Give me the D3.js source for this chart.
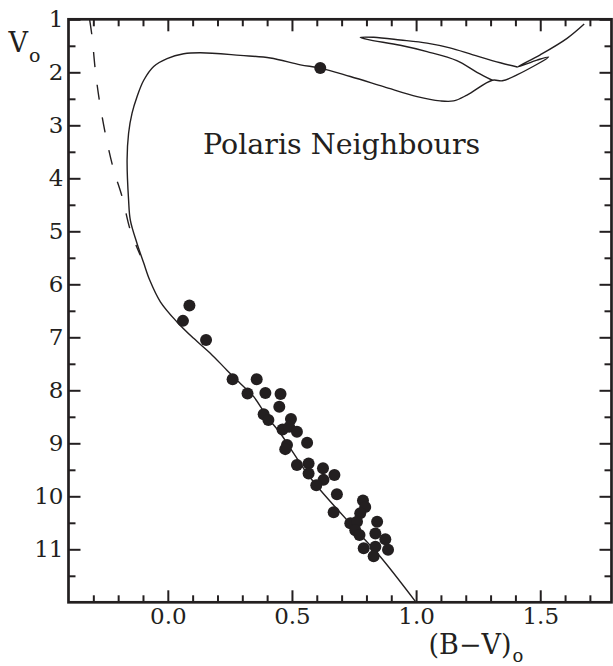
<!DOCTYPE html>
<html>
<head>
<meta charset="utf-8">
<script src="https://cdn.jsdelivr.net/npm/d3@7"></script>
<style>
  body { margin: 0; background: #fff; }
  svg { display: block; }
</style>
</head>
<body>
<script>
// Colour-magnitude diagram of the Polaris neighbours

// stars near Polaris, (B-V)o and Vo
var starBV = [0.061, 0.087, 0.154, 0.261, 0.358, 0.321, 0.393, 0.454, 0.449, 0.386,
  0.405, 0.496, 0.462, 0.489, 0.520, 0.480, 0.473, 0.561, 0.520, 0.567,
  0.567, 0.625, 0.671, 0.627, 0.598, 0.681, 0.668, 0.786, 0.795, 0.775,
  0.843, 0.735, 0.762, 0.755, 0.772, 0.836, 0.876, 0.789, 0.836, 0.887, 0.829];
var starV = [6.69, 6.40, 7.05, 7.79, 7.79, 8.06, 8.05, 8.07, 8.31, 8.45,
  8.56, 8.54, 8.74, 8.69, 8.78, 9.03, 9.11, 8.99, 9.41, 9.38,
  9.57, 9.47, 9.60, 9.69, 9.79, 9.96, 10.30, 10.08, 10.20, 10.32,
  10.48, 10.51, 10.48, 10.64, 10.73, 10.70, 10.81, 10.98, 10.95, 11.01, 11.13];

// Polaris itself, sitting on the isochrone
var polarisBV = [0.614];
var polarisV = [1.92];

// isochrone, from the lower main sequence up to the giant branch
var isoBV = [1.000, 0.856, 0.782, 0.614, 0.561, 0.507, 0.453, 0.400, 0.346, 0.292,
  0.238, 0.171, 0.104, 0.037, -0.030, -0.073, -0.097, -0.124, -0.151, -0.158,
  -0.164, -0.158, -0.144, -0.124, -0.097, -0.057, -0.003, 0.064, 0.131, 0.292,
  0.413, 0.534, 0.614, 0.735, 0.869, 1.004, 1.097, 1.151, 1.205, 1.307,
  1.347, 1.406, 1.534, 1.487, 1.408, 1.500, 1.608, 1.677];
var isoV = [12.00, 11.14, 10.76, 9.88, 9.57, 9.19, 8.81, 8.50, 8.12, 7.87,
  7.62, 7.30, 7.02, 6.71, 6.33, 5.92, 5.60, 5.23, 4.79, 4.41,
  3.65, 3.15, 2.77, 2.46, 2.15, 1.89, 1.74, 1.65, 1.63, 1.68,
  1.73, 1.86, 1.92, 2.08, 2.27, 2.46, 2.54, 2.54, 2.43, 2.15,
  2.16, 2.05, 1.71, 1.77, 1.90, 1.67, 1.36, 1.09];

// blue loop of the isochrone
var loopBV = [1.307, 1.245, 1.164, 1.044, 0.936, 0.803, 0.775, 0.829, 0.936, 1.044,
  1.136, 1.229, 1.339, 1.408];
var loopV = [2.15, 2.00, 1.78, 1.61, 1.49, 1.38, 1.34, 1.34, 1.39, 1.45,
  1.54, 1.67, 1.82, 1.90];

// zero age main sequence (dashed)
var zamsBV = [-0.315, -0.305, -0.292, -0.275, -0.248, -0.218, -0.184, -0.151, -0.111];
var zamsV = [1.00, 1.33, 1.96, 2.55, 3.24, 3.84, 4.35, 4.98, 5.45];

// ticks
var xMajor = [0.0, 0.5, 1.0, 1.5];
var xMinor = [-0.3, -0.2, -0.1, 0.1, 0.2, 0.3, 0.4, 0.6, 0.7, 0.8, 0.9, 1.1, 1.2, 1.3, 1.4, 1.6, 1.7];
var yMajor = [1, 2, 3, 4, 5, 6, 7, 8, 9, 10, 11];
var yMinor = [1.5, 2.5, 3.5, 4.5, 5.5, 6.5, 7.5, 8.5, 9.5, 10.5, 11.5];

var ink = "#231f20";
var serif = "'DejaVu Serif', serif";

// svg margin parameters
var margin = { top: 19.3, right: 1.5, bottom: 63.7, left: 68.5 };
var width = 613 - margin.left - margin.right,
  height = 666 - margin.top - margin.bottom;

var svg = d3.select("body").append("svg")
  .attr("width", 613)
  .attr("height", 666)
  .append("g")
  .attr("transform", "translate(" + margin.left + "," + margin.top + ")");

var x = d3.scaleLinear().domain([-0.4, 1.787]).range([0, width]);
var y = d3.scaleLinear().domain([1, 12]).range([0, height]);

// helper to draw one set of inward ticks
function ticks(axis, vals, size, labels, tx) {
  var g = svg.append("g")
    .attr("transform", tx)
    .call(axis.tickValues(vals).tickSizeInner(-size).tickSizeOuter(0)
      .tickPadding(labels ? 5 : 0)
      .tickFormat(labels ? labels : ""));
  g.select(".domain").remove();
  g.selectAll(".tick line").attr("stroke", ink).attr("stroke-width", 2);
  g.selectAll(".tick text")
    .attr("fill", ink)
    .style("font-family", serif)
    .style("font-size", "23px");
  return g;
}

ticks(d3.axisBottom(x), xMajor, 12, d3.format(".1f"), "translate(0," + height + ")");
ticks(d3.axisBottom(x), xMinor, 7, null, "translate(0," + height + ")");
ticks(d3.axisTop(x), xMajor, 12, null, "translate(0,0)");
ticks(d3.axisTop(x), xMinor, 7, null, "translate(0,0)");
ticks(d3.axisLeft(y), yMajor, 12, d3.format("d"), "translate(0,0)");
ticks(d3.axisLeft(y), yMinor, 7, null, "translate(0,0)");
ticks(d3.axisRight(y), yMajor, 12, null, "translate(" + width + ",0)");
ticks(d3.axisRight(y), yMinor, 7, null, "translate(" + width + ",0)");

// frame
svg.append("rect")
  .attr("width", width)
  .attr("height", height)
  .attr("fill", "none")
  .attr("stroke", ink)
  .attr("stroke-width", 2.7);

var line = d3.line()
  .x(function (d) { return x(d[0]); })
  .y(function (d) { return y(d[1]); })
  .curve(d3.curveCatmullRom.alpha(0.5));

function pairs(a, b) {
  return a.map(function (v, i) { return [v, b[i]]; });
}

svg.append("path")
  .datum(pairs(zamsBV, zamsV))
  .attr("fill", "none")
  .attr("stroke", ink)
  .attr("stroke-width", 1.4)
  .attr("stroke-dasharray", "15,18")
  .attr("d", line);

svg.append("path")
  .datum(pairs(isoBV, isoV))
  .attr("fill", "none")
  .attr("stroke", ink)
  .attr("stroke-width", 1.4)
  .attr("stroke-linejoin", "round")
  .attr("d", line);

svg.append("path")
  .datum(pairs(loopBV, loopV))
  .attr("fill", "none")
  .attr("stroke", ink)
  .attr("stroke-width", 1.4)
  .attr("stroke-linejoin", "round")
  .attr("d", line);

// stars
svg.selectAll("circle.star")
  .data(pairs(starBV, starV).concat(pairs(polarisBV, polarisV)))
  .enter().append("circle")
  .attr("class", "star")
  .attr("cx", function (d) { return x(d[0]); })
  .attr("cy", function (d) { return y(d[1]); })
  .attr("r", 6)
  .attr("fill", ink);

// title inside the plot
svg.append("text")
  .attr("x", x(0.70))
  .attr("y", y(3.55))
  .attr("text-anchor", "middle")
  .attr("fill", ink)
  .style("font-family", serif)
  .style("font-size", "28.5px")
  .text("Polaris Neighbours");

// axis titles
var vt = svg.append("text")
  .attr("x", -60)
  .attr("y", 33)
  .attr("fill", ink)
  .style("font-family", serif)
  .style("font-size", "27px");
vt.append("tspan").text("V");
vt.append("tspan").attr("dx", 1).attr("dy", 10).style("font-size", "19px").text("o");

var bt = svg.append("text")
  .attr("x", 360)
  .attr("y", 635)
  .attr("fill", ink)
  .style("font-family", serif)
  .style("font-size", "27px");
bt.append("tspan").text("(B\u2212V)");
bt.append("tspan").attr("dx", 1).attr("dy", 8).style("font-size", "18px").text("o");
</script>
</body>
</html>
